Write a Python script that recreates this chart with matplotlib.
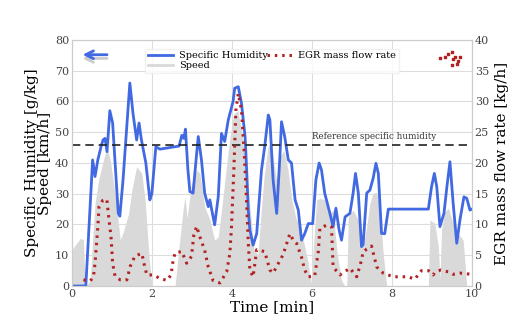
import matplotlib.pyplot as plt
import numpy as np

# time [min] and series
t_hum = [0, 0.35, 0.52, 0.58, 0.65, 0.73, 0.78, 0.83, 0.88, 0.95, 1.02, 1.16, 1.2, 1.28,
         1.45, 1.53, 1.62, 1.68, 1.74, 1.85, 1.95, 2.0, 2.1, 2.2, 2.68, 2.75, 2.8, 2.84,
         2.9, 2.95, 3.03, 3.12, 3.16, 3.24, 3.32, 3.41, 3.45, 3.53, 3.57, 3.66, 3.74, 3.82,
         3.91, 4.03, 4.07, 4.16, 4.24, 4.33, 4.37, 4.41, 4.45, 4.53, 4.62, 4.74, 4.82, 4.91,
         4.95, 5.03, 5.12, 5.2, 5.24, 5.32, 5.41, 5.49, 5.58, 5.66, 5.74, 5.82, 5.91, 6.02,
         6.1, 6.18, 6.24, 6.32, 6.45, 6.53, 6.6, 6.68, 6.74, 6.83, 6.95, 7.03, 7.09, 7.16,
         7.24, 7.28, 7.37, 7.45, 7.53, 7.6, 7.66, 7.74, 7.82, 7.91, 8.91, 8.99, 9.06, 9.12,
         9.2, 9.3, 9.38, 9.45, 9.53, 9.62, 9.7, 9.8, 9.87, 9.95, 10.0]
humidity = [0, 0, 41, 35.6, 41, 45.3, 47.5, 48, 43.7, 57, 53, 23.7, 22.7, 34.5,
            66, 56, 47.5, 53, 47.5, 40, 28, 30, 45.3, 44.5, 45.5, 49, 48, 51,
            38, 30.7, 30.2, 43.1, 48.6, 41, 30.2, 25.8, 28, 22.5, 19.9, 29.1, 49.6, 47,
            54, 60, 64.3, 64.8, 59.4, 48.6, 37.7, 24.7, 18.2, 13.3, 17, 37.7, 45.3, 55.6,
            54, 34.5, 23.6, 42, 53.4, 48.6, 41, 40, 28, 24.7, 14.9, 17, 20.3, 20.3,
            34.5, 40, 37.7, 30.2, 23.6, 19.3, 25.3, 18.2, 14.9, 22.5, 23.6, 30.2, 36.6, 30.2,
            12.8, 13.5, 30.2, 31.2, 35, 39.9, 36.6, 17.1, 17, 25, 25, 32.3, 36.6, 32.3,
            19.3, 23.6, 33, 40.4, 26.9, 13.9, 21.5, 29, 28.5, 24.7, 25]

t_speed = [0, 0.08, 0.21, 0.29, 0.33, 0.36, 0.46, 0.52, 0.58, 0.67, 0.79, 0.875, 0.96, 1.08,
           1.21, 1.29, 1.42, 1.5, 1.62, 1.75, 1.83, 1.93, 2.0, 2.58, 2.67, 2.79, 2.83, 2.88,
           2.99, 3.12, 3.2, 3.32, 3.45, 3.57, 3.66, 3.78, 3.9, 3.97, 4.05, 4.15, 4.25, 4.35,
           4.45, 4.55, 4.65, 4.72, 4.8, 4.9, 4.97, 5.05, 5.12, 5.2, 5.3, 5.4, 5.5, 5.6, 5.7,
           5.8, 5.9, 5.98, 6.05, 6.12, 6.2, 6.32, 6.45, 6.53, 6.62, 6.74, 6.82, 6.87, 6.91,
           7.03, 7.16, 7.28, 7.37, 7.45, 7.53, 7.62, 7.7, 7.78, 7.87, 8.91, 8.95, 9.07, 9.16,
           9.2, 9.24, 9.32, 9.41, 9.53, 9.66, 9.78, 9.87, 10.0]
speed = [11.7, 13.2, 15.5, 15, 1, 0, 2, 15, 26.9, 34.5, 41, 45.3, 41, 30.2,
         15, 17.7, 23.6, 31.2, 38.8, 36.6, 28, 9.6, 0, 0, 11.7, 25.8, 29, 22,
         33, 37.7, 36.6, 25.8, 21.5, 14.9, 16, 29, 43, 50, 56, 57, 50, 38,
         26, 12, 10, 22, 35, 45, 47, 40, 34, 42, 44, 38, 28, 22, 20,
         14, 8, 1, 15, 28, 28.5, 28, 23.6, 24.7, 11.7, 1.9, 0, 0, 22.5,
         24.7, 21.5, 12.8, 19.3, 26.9, 30.2, 30.5, 24.7, 10.7, 0, 0, 21.5, 20.4, 12.8,
         2, 18.2, 24.1, 25.3, 20.4, 17, 14.9, 0, 0]

t_egr = [0.29, 0.46, 0.54, 0.58, 0.65, 0.68, 0.77, 0.875, 0.93, 0.98, 1.02, 1.08, 1.21, 1.375,
         1.46, 1.58, 1.75, 1.82, 1.875, 2.04, 2.18, 2.375, 2.48, 2.52, 2.58, 2.75, 2.87, 2.99,
         3.05, 3.12, 3.2, 3.32, 3.41, 3.53, 3.7, 3.87, 3.95, 3.99, 4.05, 4.1, 4.16, 4.24,
         4.31, 4.37, 4.41, 4.45, 4.53, 4.62, 4.82, 4.95, 5.03, 5.28, 5.45, 5.53, 5.62, 5.74,
         5.82, 5.91, 6.07, 6.16, 6.2, 6.37, 6.49, 6.53, 6.7, 6.95, 7.12, 7.24, 7.28, 7.49,
         7.62, 7.78, 8.03, 8.41, 8.57, 8.74, 8.91, 9.03, 9.07, 9.22, 9.41, 9.53, 9.7, 9.99]
egr = [1.0, 0.8, 1.5, 3.7, 9.6, 12.9, 13.9, 14.1, 10.7, 8, 3.7, 1.6, 1.0, 1.0,
       3.2, 4.9, 5.3, 3.2, 1.8, 1.8, 1.3, 0.9, 1.8, 3.7, 5.4, 5.6, 3.7, 4.8,
       8.3, 9.7, 8, 5.8, 3.1, 0.9, 0.5, 2.3, 5.3, 9.6, 19, 28.6, 31.3, 28.6,
       21.6, 13.4, 7, 2.6, 1.5, 5.9, 5.6, 2.6, 2.1, 5.1, 8.5, 7.5, 6.9, 4.7,
       2.6, 1.5, 1.6, 5.6, 9.4, 9.9, 9.6, 3.1, 1.8, 2.9, 1.5, 4.2, 5.6, 6.5,
       3.1, 2.1, 1.5, 1.5, 1.1, 2.5, 2.5, 1.8, 2.2, 2.6, 2.3, 1.9, 2.1, 1.9]

ref_humidity = 46

egr_color = '#b22222'
egr_ls = (0, (0.8, 1.6))

plt.rcParams['font.family'] = ['DejaVu Serif']
fig, ax = plt.subplots(figsize=(5.13, 3.25), dpi=100)
fig.subplots_adjust(left=0.14, right=0.92, bottom=0.12, top=0.877)

ax.fill_between(t_speed, speed, color='#d9d9d9', lw=0, zorder=1)
ax.plot(t_hum, humidity, color='royalblue', lw=2, zorder=3)
ax.axhline(ref_humidity, color='#222222', ls=(0, (5, 3)), lw=1.2, zorder=4)
ax.text(6.0, ref_humidity + 1.8, 'Reference specific humidity', fontsize=6.3, color='#333333')

ax.set_xlim(0, 10)
ax.set_ylim(0, 80)
ax.set_xticks(np.arange(0, 11, 2))
ax.set_yticks(np.arange(0, 81, 10))
ax.grid(color='#dddddd', lw=0.8, zorder=0)
ax.set_axisbelow(True)
ax.tick_params(length=0, pad=2, labelsize=8, colors='#444444')
ax.set_xlabel('Time [min]', fontsize=11, labelpad=1)
ax.set_ylabel('Specific Humidity [g/kg]\nSpeed [km/h]', fontsize=11, labelpad=2, linespacing=0.95)

ax2 = ax.twinx()
ax2.plot(t_egr, egr, color=egr_color, ls=egr_ls, lw=2.2, zorder=3)
ax2.set_ylim(0, 40)
ax2.set_yticks(np.arange(0, 41, 5))
ax2.tick_params(length=0, pad=2, labelsize=8, colors='#444444')
ax2.set_ylabel('EGR mass flow rate [kg/h]', fontsize=11, labelpad=4)

for a in (ax, ax2):
    for s in a.spines.values():
        s.set_color('#cccccc')

# legend
h1, = ax.plot([], [], color='royalblue', lw=2, label='Specific Humidity')
h2, = ax.plot([], [], color='#d9d9d9', lw=2, label='Speed')
h3, = ax.plot([], [], color=egr_color, ls=egr_ls, lw=2.2, label='EGR mass flow rate')
leg = ax2.legend(handles=[h1, h2, h3], loc='upper left', bbox_to_anchor=(0.17, 0.985, 0.66, 0.0),
                 mode='expand', ncol=2, fontsize=7, frameon=True, fancybox=False,
                 borderpad=0.3, labelspacing=0.1, handlelength=2.6, handletextpad=0.6)
leg.get_frame().set_edgecolor('#eeeeee')
leg.get_frame().set_alpha(0.8)

# arrow marker at upper left
ax2.annotate('', xy=(0.02, 0.925), xytext=(0.095, 0.925), xycoords='axes fraction',
             arrowprops=dict(arrowstyle='->', color='#cccccc', lw=2, mutation_scale=14))
ax2.annotate('', xy=(0.02, 0.94), xytext=(0.095, 0.94), xycoords='axes fraction',
             arrowprops=dict(arrowstyle='->', color='royalblue', lw=2, mutation_scale=14))

# dotted cluster at upper right
cx = [0.92, 0.932, 0.94, 0.949, 0.953, 0.957, 0.966, 0.97, 0.962, 0.949]
cy = [0.928, 0.93, 0.941, 0.95, 0.923, 0.932, 0.916, 0.93, 0.903, 0.9]
ax2.scatter(cx, cy, s=3, color=egr_color, marker='s', transform=ax2.transAxes, clip_on=False)

fig.savefig('out.png', dpi=100)
